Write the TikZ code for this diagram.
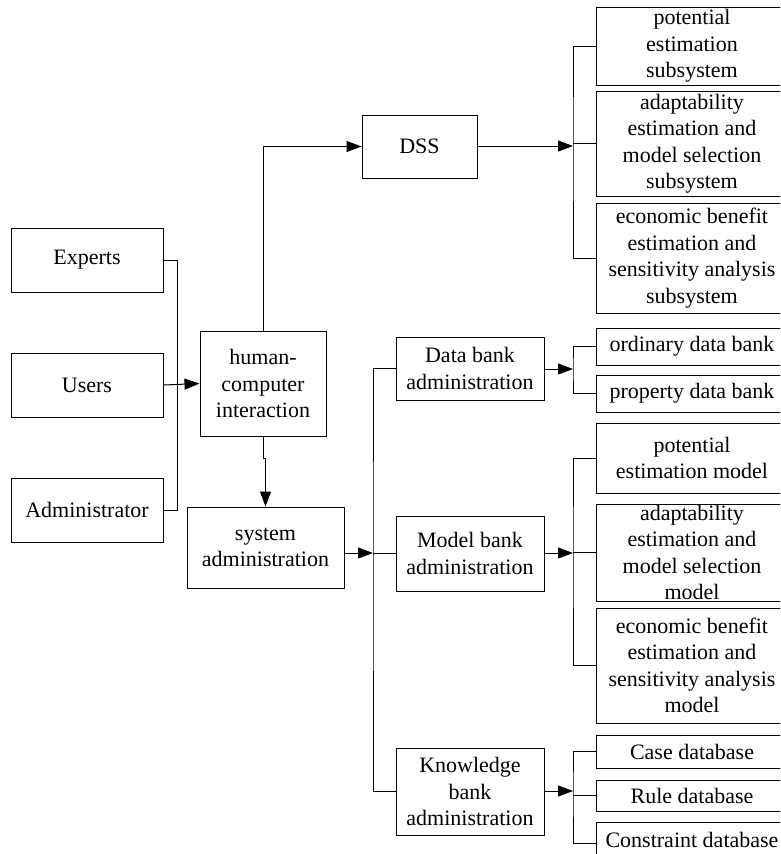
\documentclass[tikz,border=0pt]{standalone}
\usepackage{fontspec}
\setmainfont{Liberation Serif}
\usetikzlibrary{arrows.meta}
\begin{document}
\begin{tikzpicture}[x=1pt,y=-1pt,
  box/.style={draw=black,line width=1pt,rectangle,inner sep=0pt,align=center,
    font=\fontsize{22}{26.5}\selectfont},
  ln/.style={line width=1pt},
  arr/.style={line width=1pt,-{Triangle[length=15pt,width=11pt]}}]
\useasboundingbox (0,0) rectangle (780,854);
\clip (0,0) rectangle (780,854);
% left column
\node[box,minimum width=152pt,minimum height=64pt] (experts) at (87,260) {Experts};
\node[box,minimum width=152pt,minimum height=64pt] (users) at (87,385) {Users};
\node[box,minimum width=152pt,minimum height=64pt] (admin) at (87,510) {Administrator};
\node[box,minimum width=126pt,minimum height=105pt] (hci) at (263,383.5) {human-\\computer\\interaction};
\node[box,minimum width=157pt,minimum height=81pt] (sysadm) at (265.5,547.5) {system\\administration};
\node[box,minimum width=115pt,minimum height=63pt] (dss) at (419.5,146.5) {DSS};
% DSS children
\node[box,minimum width=192pt,minimum height=78pt] (pes) at (692,46) {potential\\estimation\\subsystem};
\node[box,minimum width=192pt,minimum height=105pt] (aes) at (692,143.5) {adaptability\\estimation and\\model selection\\subsystem};
\node[box,minimum width=192pt,minimum height=110pt] (ees) at (692,258) {economic benefit\\estimation and\\sensitivity analysis\\subsystem};
% administration
\node[box,minimum width=148pt,minimum height=63pt] (dba) at (470,368.5) {Data bank\\administration};
\node[box,minimum width=192pt,minimum height=37pt] (odb) at (692,346.5) {ordinary data bank};
\node[box,minimum width=192pt,minimum height=37pt] (pdb) at (692,393.5) {property data bank};
\node[box,minimum width=148pt,minimum height=75pt] (mba) at (470,553.5) {Model bank\\administration};
\node[box,minimum width=192pt,minimum height=70pt] (pem) at (692,458) {potential\\estimation model};
\node[box,minimum width=192pt,minimum height=97pt] (aem) at (692,552.5) {adaptability\\estimation and\\model selection\\model};
\node[box,minimum width=192pt,minimum height=115pt] (eem) at (692,665.5) {economic benefit\\estimation and\\sensitivity analysis\\model};
\node[box,minimum width=148pt,minimum height=87pt] (kba) at (470,791.5) {Knowledge\\bank\\administration};
\node[box,minimum width=192pt,minimum height=33pt] (case) at (692,751.5) {Case database};
\node[box,minimum width=192pt,minimum height=31pt] (rule) at (692,795.5) {Rule database};
\node[box,minimum width=192pt,minimum height=36pt] (cons) at (692,840) {Constraint database};
% junction coordinates
\coordinate (jdss) at (573,146);
\coordinate (jdba) at (573,369);
\coordinate (jmba) at (573,553);
\coordinate (jkba) at (573,791);
\coordinate (jsys) at (373,553);
% left bus
\draw[ln] (experts.east) -- ++(14,0) |- (admin.east);
\draw[arr] (users.east) -- (hci.west);
\draw[arr] (hci.north) |- (dss.west);
\draw[arr] (hci.south) -- ++(0,22) -| (sysadm.north);
\draw[arr] (sysadm.east |- jsys) -- (jsys);
% admin bus
\draw[ln] (dba.west) -| (jsys) |- (kba.west);
\draw[ln] (mba.west) -- (mba.west -| jsys);
% DSS bracket
\draw[arr] (dss.east |- jdss) -- (jdss);
\draw[ln] (pes.west) -| (jdss) |- (ees.west);
\draw[ln] (aes.west) -- (aes.west -| jdss);
% data bank bracket
\draw[arr] (dba.east |- jdba) -- (jdba);
\draw[ln] (odb.west) -| (jdba) |- (pdb.west);
% model bank bracket
\draw[arr] (mba.east |- jmba) -- (jmba);
\draw[ln] (pem.west) -| (jmba) |- (eem.west);
\draw[ln] (aem.west) -- (aem.west -| jmba);
% knowledge bracket
\draw[arr] (kba.east |- jkba) -- (jkba);
\draw[ln] (case.west) -| (jkba) |- ([yshift=-3pt]cons.west);
\draw[ln] (rule.west) -- (rule.west -| jkba);
\end{tikzpicture}
\end{document}
